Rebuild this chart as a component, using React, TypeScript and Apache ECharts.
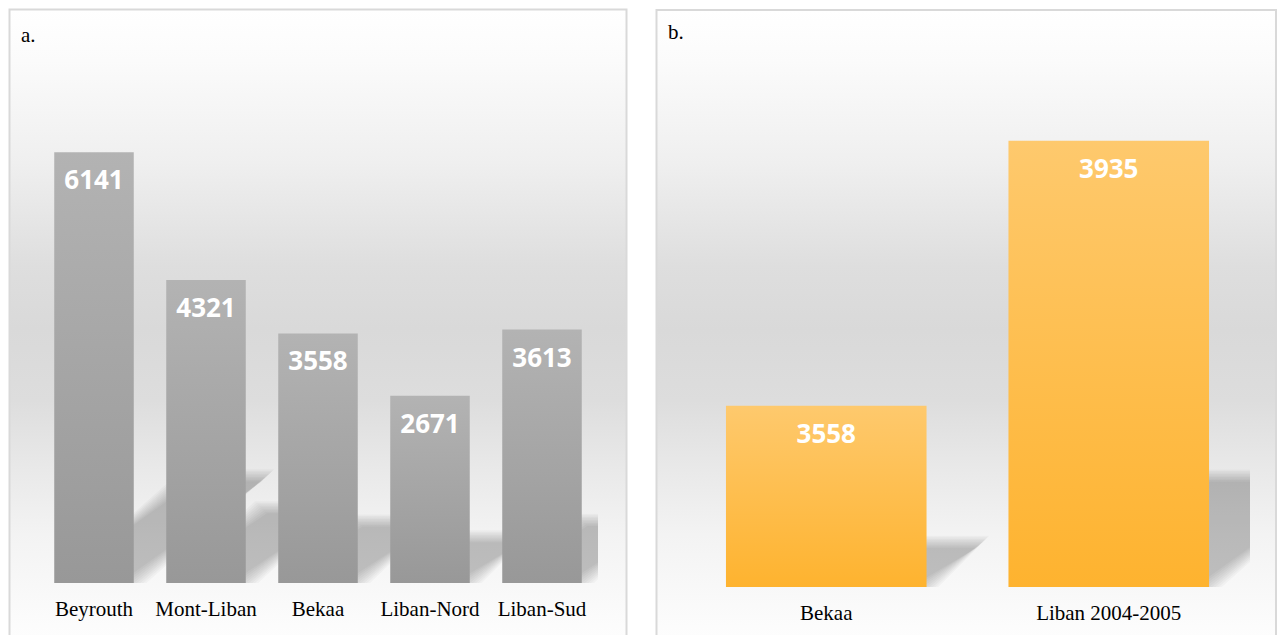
import React, { useEffect, useRef } from "react";
import * as echarts from "echarts";

const regionsA = ["Beyrouth", "Mont-Liban", "Bekaa", "Liban-Nord", "Liban-Sud"];
const valuesA = [6141, 4321, 3558, 2671, 3613];
const regionsB = ["Bekaa", "Liban 2004-2005"];
const valuesB = [3558, 3935];
const panelTitles = ["a.", "b."];
const axisA = { min: 0, max: 7000 };
const axisB = { min: 3300, max: 4000 };

const SHADOW_H = 0.25;
const SHADOW_SKEW = 1.25;
const BAR_FRAC = 0.71;
const BLUR_LAYERS = 9;
const BLUR_RADIUS = 6;

function shadowItem(params: any, api: any) {
  const cs = params.coordSys;
  const idx = api.value(0);
  const top = api.coord([idx, api.value(1)]);
  const base = cs.y + cs.height;
  const band = api.size([1, 0])[0];
  const w = band * BAR_FRAC;
  const left = top[0] - w / 2;
  const right = top[0] + w / 2;
  const h = (base - top[1]) * SHADOW_H;
  const dx = h * SHADOW_SKEW;
  const children: any[] = [];
  for (let k = 0; k < BLUR_LAYERS; k++) {
    const e = -BLUR_RADIUS + (2 * BLUR_RADIUS * k) / (BLUR_LAYERS - 1);
    children.push({
      type: "polygon",
      shape: {
        points: [
          [left - e, base + e],
          [right + e, base + e],
          [right + dx + e, base - h - e],
          [left + dx - e, base - h - e],
        ],
      },
      style: { fill: "rgba(0,0,0,0.026)" },
    });
  }
  return { type: "group", children };
}

const bgGradient = () =>
  new echarts.graphic.LinearGradient(0, 0, 0, 1, [
    { offset: 0, color: "#ffffff" },
    { offset: 0.08, color: "#fbfbfb" },
    { offset: 0.24, color: "#efefef" },
    { offset: 0.4, color: "#dedede" },
    { offset: 0.5, color: "#d9d9d9" },
    { offset: 0.61, color: "#dddddd" },
    { offset: 0.71, color: "#e8e8e8" },
    { offset: 0.82, color: "#f3f3f3" },
    { offset: 0.98, color: "#fdfdfd" },
    { offset: 1, color: "#ffffff" },
  ]);

const catLabel = {
  margin: 15,
  fontFamily: "Liberation Serif",
  fontSize: 21,
  color: "#000",
  interval: 0,
};

const valueLabel = {
  show: true,
  position: "insideTop",
  distance: 14,
  color: "#ffffff",
  fontFamily: "Open Sans",
  fontWeight: "bold",
  fontSize: 26,
};

export default function App() {
  const ref = useRef<HTMLDivElement>(null);
  useEffect(() => {
    if (!ref.current) return;
    const chart = echarts.init(ref.current, undefined, { renderer: "svg" });
    chart.setOption({
      animation: false,
      backgroundColor: "#ffffff",
      graphic: [
        {
          type: "rect",
          z: -10,
          shape: { x: 9.5, y: 9.5, width: 617, height: 640 },
          style: { fill: bgGradient(), stroke: "#d9d9d9", lineWidth: 2 },
        },
        {
          type: "rect",
          z: -10,
          shape: { x: 656.5, y: 10, width: 619.5, height: 640 },
          style: { fill: bgGradient(), stroke: "#d9d9d9", lineWidth: 2 },
        },
        {
          type: "text",
          z: 50,
          x: 21,
          y: 35,
          style: {
            text: panelTitles[0],
            fontFamily: "Liberation Serif",
            fontSize: 21,
            fill: "#000",
            verticalAlign: "middle",
          },
        },
        {
          type: "text",
          z: 50,
          x: 668,
          y: 32,
          style: {
            text: panelTitles[1],
            fontFamily: "Liberation Serif",
            fontSize: 21,
            fill: "#000",
            verticalAlign: "middle",
          },
        },
      ],
      grid: [
        { left: 38, top: 92, width: 560, height: 491 },
        { left: 685, top: 95, width: 565, height: 492 },
      ],
      xAxis: [
        {
          type: "category",
          gridIndex: 0,
          data: regionsA,
          axisLine: { show: false },
          axisTick: { show: false },
          axisLabel: catLabel,
          splitLine: { show: false },
        },
        {
          type: "category",
          gridIndex: 1,
          data: regionsB,
          axisLine: { show: false },
          axisTick: { show: false },
          axisLabel: catLabel,
          splitLine: { show: false },
        },
      ],
      yAxis: [
        { type: "value", gridIndex: 0, min: axisA.min, max: axisA.max, show: false, splitLine: { show: false } },
        { type: "value", gridIndex: 1, min: axisB.min, max: axisB.max, show: false, splitLine: { show: false } },
      ],
      series: [
        {
          type: "custom",
          xAxisIndex: 0,
          yAxisIndex: 0,
          z: 1,
          clip: true,
          renderItem: shadowItem,
          data: valuesA.map((v, i) => [i, v]),
          silent: true,
        },
        {
          type: "custom",
          xAxisIndex: 1,
          yAxisIndex: 1,
          z: 1,
          clip: true,
          renderItem: shadowItem,
          data: valuesB.map((v, i) => [i, v]),
          silent: true,
        },
        {
          type: "bar",
          xAxisIndex: 0,
          yAxisIndex: 0,
          z: 3,
          barWidth: "71%",
          data: valuesA,
          itemStyle: {
            color: new echarts.graphic.LinearGradient(0, 0, 0, 1, [
              { offset: 0, color: "#b3b3b3" },
              { offset: 1, color: "#989898" },
            ]),
          },
          label: valueLabel,
        },
        {
          type: "bar",
          xAxisIndex: 1,
          yAxisIndex: 1,
          z: 3,
          barWidth: "71%",
          data: valuesB,
          itemStyle: {
            color: new echarts.graphic.LinearGradient(0, 0, 0, 1, [
              { offset: 0, color: "#fec96d" },
              { offset: 1, color: "#feb32f" },
            ]),
          },
          label: valueLabel,
        },
      ],
    });
    return () => chart.dispose();
  }, []);
  return (
    <div
      ref={ref}
      style={{ position: "fixed", left: 0, top: 0, width: 1277, height: 635 }}
    />
  );
}
